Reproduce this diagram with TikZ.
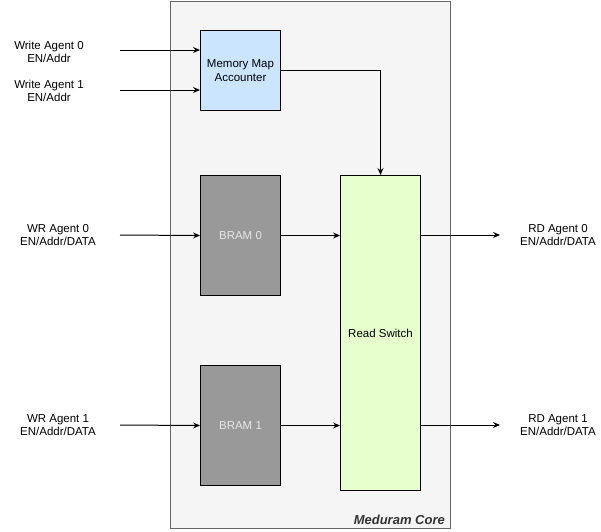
\documentclass[tikz,border=0pt]{standalone}
\usepackage{fontspec}
\setmainfont{Liberation Sans}
\usetikzlibrary{arrows.meta}
\definecolor{corefill}{HTML}{F5F5F5}
\definecolor{coreline}{HTML}{666666}
\definecolor{mmafill}{HTML}{CCE5FF}
\definecolor{bramfill}{HTML}{999999}
\definecolor{bramtext}{HTML}{E6E6E6}
\definecolor{rsfill}{HTML}{E6FFCC}
\begin{document}
\begin{tikzpicture}[x=1pt,y=-1pt,
  box/.style={draw=black, line width=1pt, minimum width=80pt, inner sep=0pt,
    font=\fontsize{11.5}{13.5}\selectfont, align=center, anchor=north west},
  lbl/.style={font=\fontsize{11.5}{13.5}\selectfont, align=center, inner sep=0pt},
  arr/.style={-{Stealth[length=7pt,width=6pt,inset=2.5pt]}, line width=1pt}]
\useasboundingbox (0,0) rectangle (601,531);
\node[draw=coreline, fill=corefill, line width=1pt, minimum width=280pt,
  minimum height=527pt, inner sep=0pt, anchor=north west] (core) at (170,0.5) {};
\node[font=\fontsize{13}{15}\selectfont\bfseries\itshape, text=black!80, anchor=east, inner sep=0pt] (corelbl) at (445,520) {Meduram Core};

\node[box, fill=mmafill, minimum height=80pt] (mma) at (200,30) {Memory Map\\Accounter};
\node[box, fill=bramfill, text=bramtext, minimum height=120pt] (bram0) at (200,175) {BRAM 0};
\node[box, fill=bramfill, text=bramtext, minimum height=120pt] (bram1) at (200,365) {BRAM 1};
\node[box, fill=rsfill, minimum height=315pt] (rs) at (340,175) {Read Switch};

\node[lbl] (wa0l) at (49,52) {Write Agent 0\\EN/Addr};
\node[lbl] (wa1l) at (49,91) {Write Agent 1\\EN/Addr};
\node[lbl] (wr0l) at (58,235) {WR Agent 0\\EN/Addr/DATA};
\node[lbl] (wr1l) at (58,425) {WR Agent 1\\EN/Addr/DATA};
\node[lbl] (rd0l) at (558,235) {RD Agent 0\\EN/Addr/DATA};
\node[lbl] (rd1l) at (558,425) {RD Agent 1\\EN/Addr/DATA};

\coordinate (wa0) at (120,50);
\coordinate (wa1) at (120,90);
\coordinate (wr0) at (120,235);
\coordinate (wr1) at (120,425);
\coordinate (rd0) at (500,235);
\coordinate (rd1) at (500,425);

\draw[arr] (wa0) -- (mma.west |- wa0);
\draw[arr] (wa1) -- (mma.west |- wa1);
\draw[arr] (mma.east) -| (rs.north);
\draw[arr] (wr0) -- (bram0.west);
\draw[arr] (wr1) -- (bram1.west);
\draw[arr] (bram0.east) -- (rs.west |- bram0.east);
\draw[arr] (bram1.east) -- (rs.west |- bram1.east);
\draw[arr] (rs.east |- rd0) -- (rd0);
\draw[arr] (rs.east |- rd1) -- (rd1);
\end{tikzpicture}
\end{document}
